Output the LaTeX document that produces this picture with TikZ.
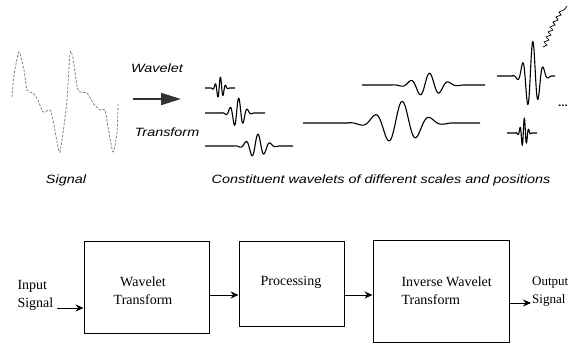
\documentclass[tikz,border=0pt]{standalone}
\usepackage{fontspec}
\setmainfont{Liberation Serif}
\newfontfamily\capfont[FakeStretch=1.2]{Liberation Sans}
\usetikzlibrary{arrows.meta}
\begin{document}
\begin{tikzpicture}[x=1pt,y=-1pt,
    captxt/.style={font=\capfont\itshape\fontsize{12}{14}\selectfont},
    blk/.style={draw,line width=0.9pt,inner sep=0pt},
    lbl/.style={font=\fontsize{14}{18}\selectfont,align=center},
    arr/.style={-{Stealth[length=8pt,width=7pt]},line width=0.9pt},
    bigarr/.style={-{Triangle[length=20pt,width=12pt]},line width=2pt,black!80},
    sigline/.style={gray,line width=0.8pt,dash pattern=on 2.5pt off 1.5pt},
    wave/.style={line width=1.1pt,line join=round}]
  \useasboundingbox (0,0) rectangle (571,346);
  % signal and its parts
  \draw[sigline] plot[smooth,tension=0.4] coordinates {(12,97) (14,75) (19,52) (24,70) (27,90) (33,93) (38,100)
    (43,112) (50,110) (53,120) (58,147) (60,152) (63,133) (67,100) (70,53) (73,58) (78,90) (87,93) (93,103)
    (100,110) (105,110) (108,127) (113,152) (117,133) (118,103)};
  \node[captxt] (sig) at (66,180) {Signal};
  \node[captxt] (wlt) at (157,68) {Wavelet};
  \node[captxt] (trf) at (167,132) {Transform};
  \coordinate (a0) at (133,99);
  \coordinate (a1) at (181,99);
  \draw[bigarr] (a0) -- (a1);
  \foreach \xa/\xb/\xc/\yc/\amp/\s in {205/235/220/88/11/3, 205/265/238/113/15/5, 205/293/257/146/12/7,
      362/485/428/85/12/11, 303/480/400/123/22/16, 497/555/532/76/35/6, 507/537/524/133/15/2.5}{
    \draw[wave] (\xa,\yc) -- ({\xc-3.2*\s},\yc) -- plot[domain=-3.2:3.2,samples=70]
      ({\xc+\s*\x},{\yc-\amp*exp(-\x*\x/2.5)*cos(deg(3.6*\x)-30)}) -- (\xb,\yc);
  }
  \draw[line width=0.7pt] (543,47) -- (547,45) -- (544,42) -- (549,40) -- (546,37) -- (551,35) -- (548,32)
    -- (553,30) -- (550,27) -- (555,25) -- (553,22) -- (558,20) -- (556,17) -- (561,15) -- (559,12)
    -- (564,10) -- (567,6);
  \node[font=\capfont\bfseries\fontsize{10}{12}\selectfont] (dots) at (563,106) {...};
  \node[captxt] (cons) at (381,180) {Constituent wavelets of different scales and positions};
  % block diagram
  \node[blk,minimum width=125pt,minimum height=92pt] (wt) at (146.5,287) {};
  \node[blk,minimum width=105pt,minimum height=85pt] (proc) at (291.5,283.5) {};
  \node[blk,minimum width=136pt,minimum height=102pt] (iwt) at (441,291) {};
  \node[lbl] (wtt) at (143,291) {Wavelet\\Transform};
  \node[lbl] (proct) at (291,282) {Processing};
  \node[lbl,align=left,anchor=west] (iwtt) at (398,291) {Inverse Wavelet\\Transform};
  \node[lbl,align=left,anchor=west] (in) at (14,295.5) {Input\\Signal};
  \node[lbl,align=left,anchor=west,inner sep=1pt,font=\fontsize{13}{18}\selectfont] (out) at (531,291.5) {Output\\Signal};
  \draw[arr] ([yshift=-12.5pt]in.east) -- ([yshift=-12.5pt]in.east -| wt.west);
  \draw[arr] ([yshift=-8pt]wt.east) -- ([yshift=-8pt]wt.east -| proc.west);
  \draw[arr] ([yshift=-11.5pt]proc.east) -- ([yshift=-11.5pt]proc.east -| iwt.west);
  \draw[arr] ([yshift=-12pt]iwt.east) -- ([yshift=-12pt]iwt.east -| out.west);
\end{tikzpicture}
\end{document}
